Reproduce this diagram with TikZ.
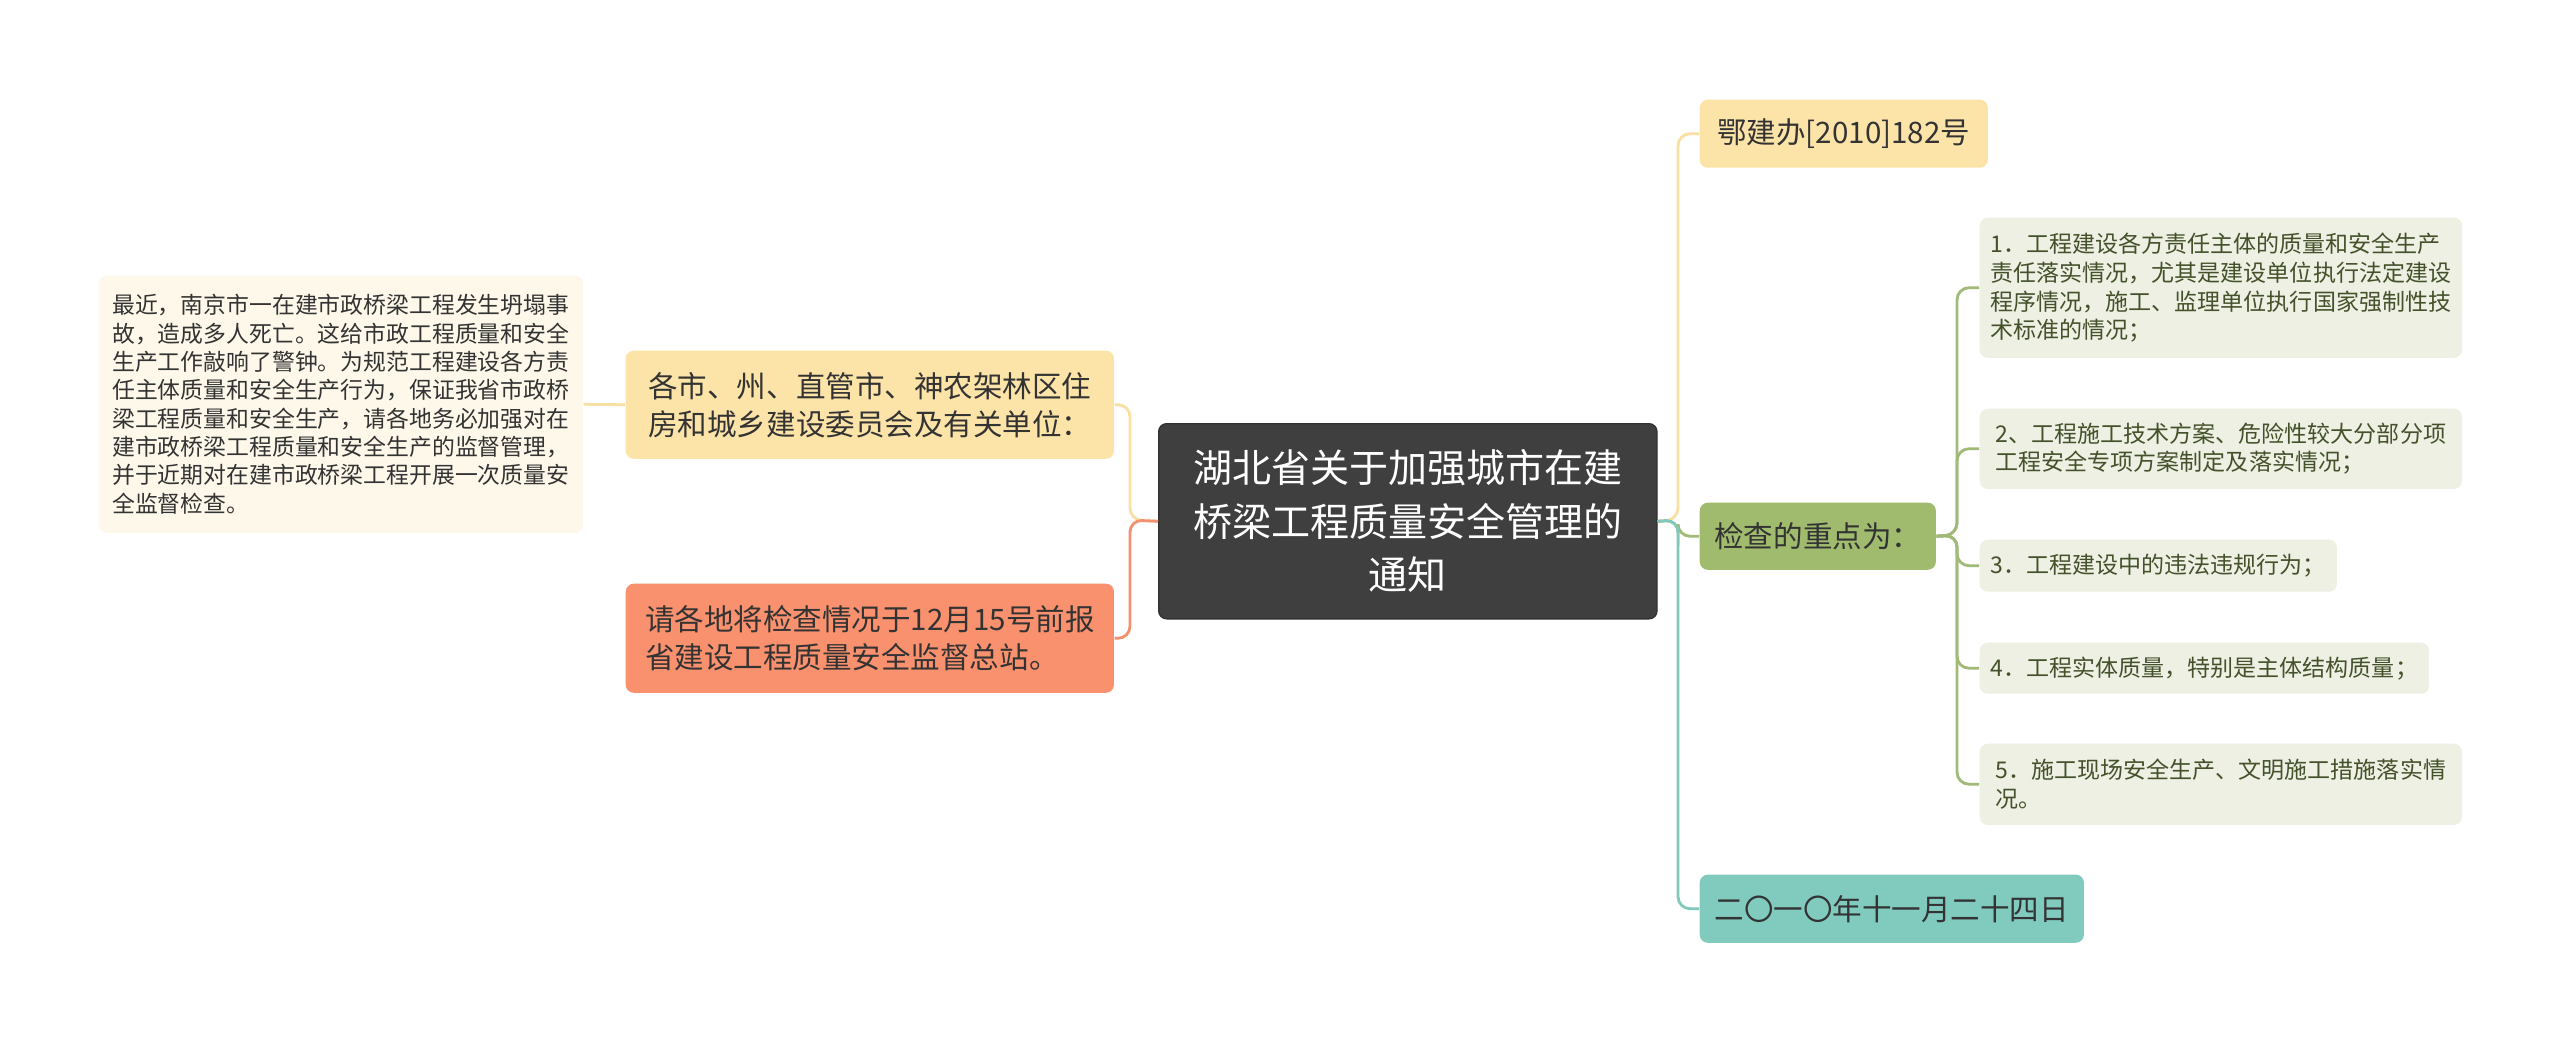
\documentclass[tikz,border=0pt]{standalone}
\usepackage{fontspec}
\setmainfont{Noto Sans CJK SC}
\usetikzlibrary{positioning,calc}
\definecolor{rootbg}{HTML}{3F3F3F}
\definecolor{ybg}{HTML}{FCE3A8}
\definecolor{yline}{HTML}{F8DFA2}
\definecolor{sbg}{HTML}{F9916E}
\definecolor{sline}{HTML}{F2906F}
\definecolor{gbg}{HTML}{A0BA6E}
\definecolor{gline}{HTML}{A2BA78}
\definecolor{tbg}{HTML}{80CBBE}
\definecolor{tline}{HTML}{80C9BC}
\definecolor{notebg}{HTML}{FDF8EA}
\definecolor{itembg}{HTML}{EDF0E3}
\definecolor{itemtxt}{HTML}{44512A}
\definecolor{txt}{HTML}{333333}

\tikzset{
  box/.style={rounded corners=0.08cm, inner sep=0pt, anchor=north west, align=left},
  rootbox/.style={box, fill=rootbg, draw=rootbg!80!black, text=white, align=center,
    font=\fontsize{11.1}{15.2}\selectfont},
  branch/.style={box, text=txt, font=\fontsize{8.4}{10.8}\selectfont},
  notebox/.style={box, fill=notebg, text=txt, font=\fontsize{6.5}{8.05}\selectfont},
  itembox/.style={box, fill=itembg, text=itemtxt, font=\fontsize{6.55}{8.15}\selectfont},
  link/.style={line width=0.8pt, rounded corners=0.12cm}
}

\begin{document}
\begin{tikzpicture}[x=0.01cm, y=-0.01cm]
  \useasboundingbox (0,0) rectangle (2560,1042);
  \fill[white] (0,0) rectangle (2560,1042);

  % centre topic
  \node[rootbox, minimum width=4.98cm, minimum height=1.95cm] (root) at (1158,423)
    {湖北省关于加强城市在建\\桥梁工程质量安全管理的\\通知};

  % left side
  \node[branch, fill=ybg, minimum width=4.88cm, minimum height=1.08cm] (units) at (625,350)
    {各市、州、直管市、神农架林区住\\房和城乡建设委员会及有关单位：};
  \node[branch, fill=sbg, minimum width=4.88cm, minimum height=1.09cm] (report) at (625,583)
    {请各地将检查情况于12月15号前报\\省建设工程质量安全监督总站。};
  \node[notebox, minimum width=4.84cm, minimum height=2.57cm] (note) at (98,275)
    {最近，南京市一在建市政桥梁工程发生坍塌事\\故，造成多人死亡。这给市政工程质量和安全\\生产工作敲响了警钟。为规范工程建设各方责\\任主体质量和安全生产行为，保证我省市政桥\\梁工程质量和安全生产，请各地务必加强对在\\建市政桥梁工程质量和安全生产的监督管理，\\并于近期对在建市政桥梁工程开展一次质量安\\全监督检查。};

  % right side
  \node[branch, fill=ybg, minimum width=2.88cm, minimum height=0.68cm] (docno) at (1699,99)
    {鄂建办[2010]182号};
  \node[branch, fill=gbg, minimum width=2.36cm, minimum height=0.67cm] (focus) at (1699,502)
    {检查的重点为：};
  \node[branch, fill=tbg, minimum width=3.84cm, minimum height=0.68cm] (date) at (1699,874)
    {二〇一〇年十一月二十四日};

  % inspection points
  \node[itembox, minimum width=4.82cm, minimum height=1.40cm] (item1) at (1979,217)
    {1．工程建设各方责任主体的质量和安全生产\\责任落实情况，尤其是建设单位执行法定建设\\程序情况，施工、监理单位执行国家强制性技\\术标准的情况；};
  \node[itembox, minimum width=4.82cm, minimum height=0.80cm] (item2) at (1979,408)
    {2、工程施工技术方案、危险性较大分部分项\\工程安全专项方案制定及落实情况；};
  \node[itembox, minimum width=3.57cm, minimum height=0.52cm] (item3) at (1979,539)
    {3．工程建设中的违法违规行为；};
  \node[itembox, minimum width=4.49cm, minimum height=0.51cm] (item4) at (1979,642)
    {4．工程实体质量，特别是主体结构质量；};
  \node[itembox, minimum width=4.82cm, minimum height=0.81cm] (item5) at (1979,743)
    {5．施工现场安全生产、文明施工措施落实情\\况。};

  % connectors
  \coordinate (rtrunk) at (1678,520);
  \coordinate (ltrunk) at (1130,520);
  \coordinate (itrunk) at (1957,535);

  \draw[link, yline] (root.east) -- (rtrunk) |- (docno.west);
  \draw[link, gline] (root.east) -- (rtrunk) |- (focus.west);
  \draw[link, tline] (root.east) -- (rtrunk) |- (date.west);

  \draw[link, yline] (root.west) -- (ltrunk) |- (units.east);
  \draw[link, sline] (root.west) -- (ltrunk) |- (report.east);
  \draw[link, yline] (units.west) -- (note.east);

  \foreach \i in {1,...,5}
    \draw[link, gline] (focus.east) -- (itrunk) |- (item\i.west);
\end{tikzpicture}
\end{document}
